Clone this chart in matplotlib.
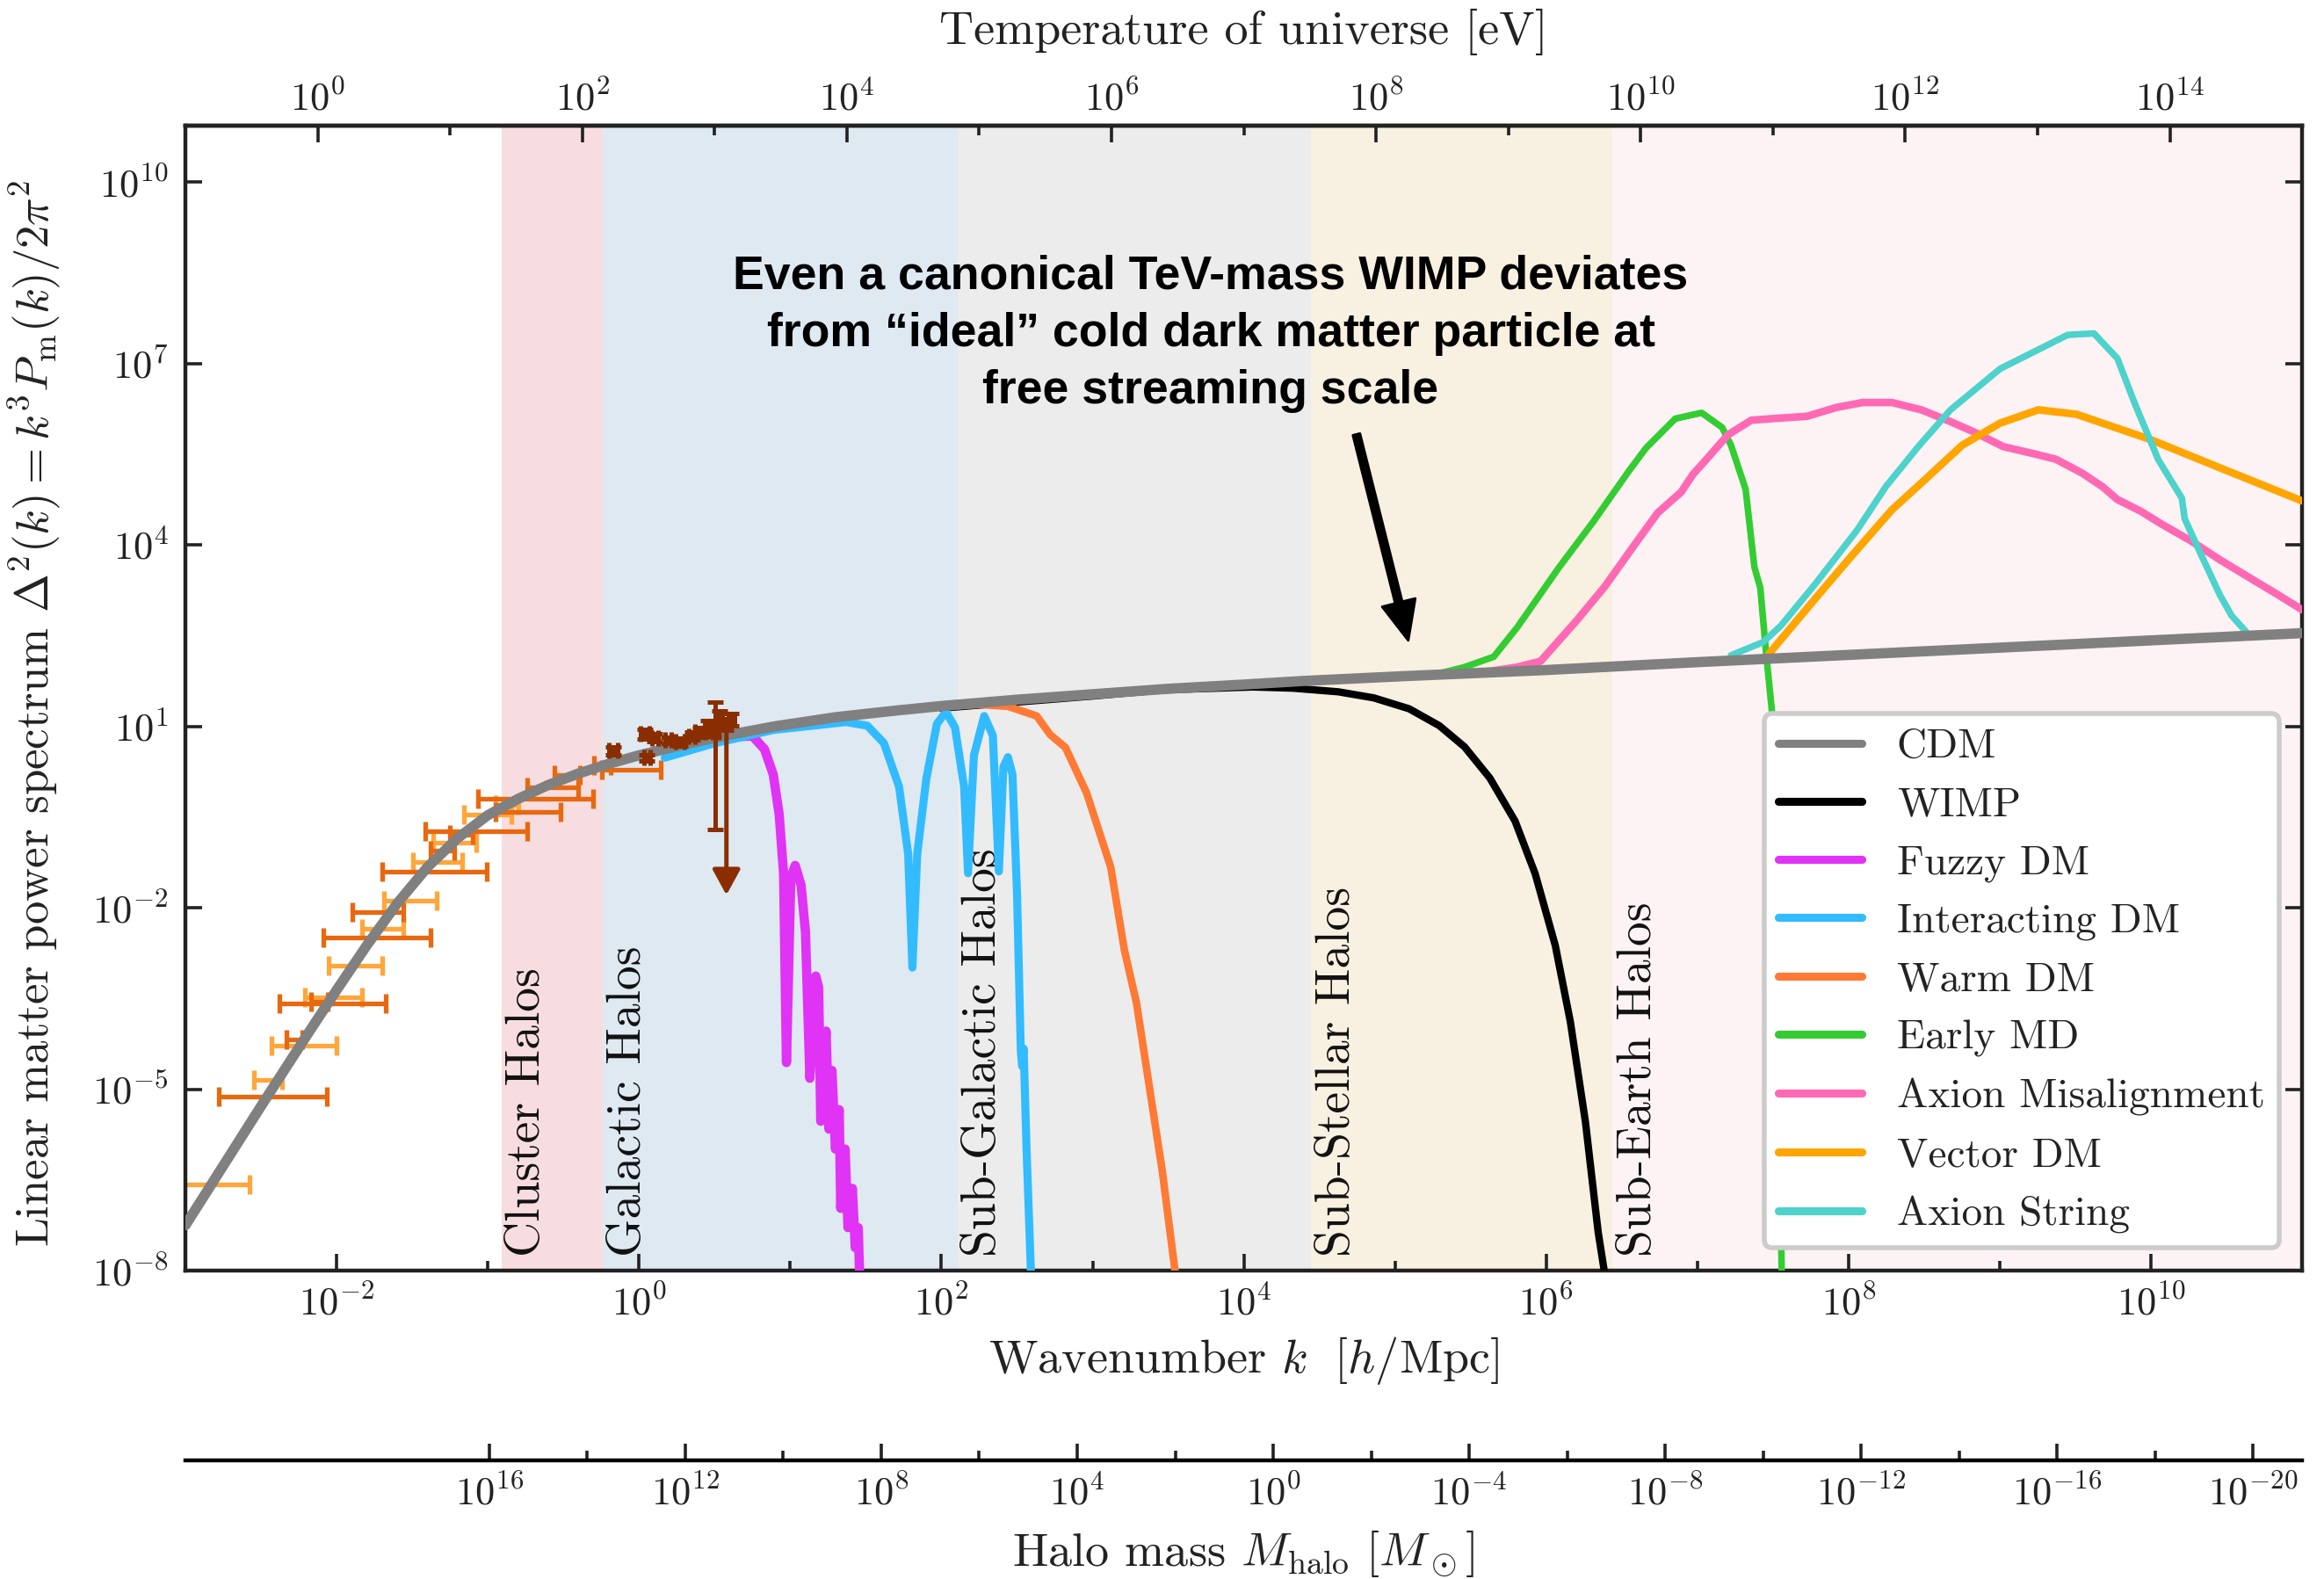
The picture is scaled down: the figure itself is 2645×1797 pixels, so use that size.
import numpy as np
import matplotlib
matplotlib.use("Agg")
import matplotlib.pyplot as plt
from matplotlib.lines import Line2D
from matplotlib.ticker import NullFormatter, NullLocator
import matplotlib.transforms as mtransforms

plt.rcParams.update({
    "font.family": "serif",
    "font.serif": ["cmr10"],
    "mathtext.fontset": "cm",
    "axes.formatter.use_mathtext": True,
    "text.color": "#222222",
    "axes.labelcolor": "#222222",
    "xtick.color": "#222222",
    "ytick.color": "#222222",
})

# ---------------- data (log10 values) ----------------
cdm_logk = [-3.0, -2.5, -2.2, -2.0, -1.8, -1.6, -1.4, -1.2, -1.0, -0.8, -0.6, -0.4, -0.2, 0.0,
            0.3, 0.6, 0.9, 1.3, 1.7, 2.0, 2.5, 3.0, 3.5, 4.0, 4.4, 5.07, 6.0, 7.0, 8.0, 9.0, 10.0, 11.0]
cdm_logy = [-7.25, -5.28, -4.12, -3.36, -2.62, -1.93, -1.33, -0.85, -0.47, -0.2, 0.03, 0.22, 0.38, 0.52,
            0.70, 0.86, 1.0, 1.15, 1.26, 1.335, 1.44, 1.53, 1.62, 1.69, 1.75, 1.83, 1.93, 2.06, 2.18,
            2.30, 2.42, 2.54]

wimp_logk = [2.0, 3.0, 3.458, 4.058, 4.325, 4.625, 4.859, 5.093, 5.293, 5.46, 5.627, 5.794, 5.927,
             6.06, 6.16, 6.26, 6.344, 6.39]
wimp_logy = [1.30, 1.50, 1.60, 1.65, 1.63, 1.57, 1.47, 1.29, 1.01, 0.66, 0.145, -0.566, -1.437,
             -2.622, -3.888, -5.549, -7.367, -8.1]

fuzzy_logk = [0.3, 0.6, 0.75, 0.83, 0.888, 0.927, 0.956, 0.975, 1.004, 1.033, 1.072, 1.101, 1.13,
              1.169, 1.188, 1.202, 1.237, 1.256, 1.276, 1.299, 1.324, 1.334, 1.363, 1.382, 1.411,
              1.43, 1.45, 1.459]
fuzzy_logy = [0.62, 0.82, 0.84, 0.62, 0.2, -0.46, -1.43, -4.56, -1.5, -1.3, -1.63, -2.41, -4.82,
              -3.13, -3.32, -5.53, -4.04, -5.66, -4.69, -5.99, -5.34, -6.97, -5.99, -7.29, -6.64,
              -7.62, -7.29, -8.1]

idm_logk = [0.17, 0.5, 0.89, 1.37, 1.51, 1.62, 1.72, 1.78, 1.808, 1.84, 1.9, 1.97, 2.03, 2.09, 2.15,
            2.176, 2.215, 2.283, 2.34, 2.38, 2.41, 2.44, 2.47, 2.5, 2.525, 2.534, 2.544, 2.563, 2.593]
idm_logy = [0.48, 0.72, 0.94, 1.07, 1.01, 0.72, 0.0, -1.11, -2.99, -1.11, 0.13, 1.04, 1.24, 0.98,
            0.0, -1.43, 0.52, 1.17, 0.85, -1.40, 0.33, 0.49, 0.2, -1.76, -4.36, -4.62, -4.33, -5.99, -8.1]

wdm_logk = [1.9, 2.1, 2.25, 2.44, 2.63, 2.72, 2.82, 2.96, 3.12, 3.21, 3.29, 3.46, 3.55]
wdm_logy = [1.31, 1.34, 1.36, 1.33, 1.17, 0.86, 0.65, -0.1, -1.33, -2.7, -3.57, -6.34, -8.1]

emd_logk = [5.0, 5.228, 5.459, 5.653, 5.808, 6.079, 6.312, 6.544, 6.66, 6.854, 7.028, 7.164, 7.222,
            7.319, 7.377, 7.416, 7.455, 7.493, 7.53, 7.56]
emd_logy = [1.82, 1.832, 1.978, 2.149, 2.634, 3.607, 4.384, 5.211, 5.6, 6.086, 6.183, 5.94, 5.648,
            4.919, 3.632, 3.29, 2.197, 1.249, -3.0, -8.5]

mis_logk = [5.6, 5.808, 5.963, 6.196, 6.389, 6.583, 6.738, 6.892, 6.97, 7.048, 7.202, 7.357, 7.551,
            7.725, 7.919, 8.093, 8.287, 8.481, 8.674, 8.829, 9.023, 9.216, 9.371, 9.545, 9.681,
            9.778, 9.933, 10.068, 10.262, 10.456, 10.649, 10.843, 11.0]
mis_logy = [1.90, 1.978, 2.076, 2.732, 3.315, 3.996, 4.53, 4.871, 5.163, 5.381, 5.819, 6.061, 6.096,
            6.125, 6.271, 6.353, 6.353, 6.232, 6.037, 5.867, 5.624, 5.512, 5.415, 5.186, 4.958,
            4.749, 4.555, 4.346, 4.069, 3.753, 3.461, 3.17, 2.926]

vec_logk = [7.473, 7.783, 8.015, 8.287, 8.5, 8.752, 9.003, 9.255, 9.507, 9.991, 10.494, 11.0]
vec_logy = [2.197, 3.121, 3.802, 4.58, 5.066, 5.648, 6.013, 6.232, 6.159, 5.746, 5.235, 4.725]

str_logk = [7.222, 7.435, 7.551, 7.783, 8.055, 8.248, 8.461, 8.674, 9.003, 9.449, 9.623, 9.778,
            9.894, 10.049, 10.204, 10.223, 10.32, 10.456, 10.533, 10.63]
str_logy = [2.173, 2.392, 2.659, 3.364, 4.239, 4.968, 5.624, 6.232, 6.912, 7.471, 7.495, 7.082,
            6.329, 5.405, 4.773, 4.433, 3.899, 3.17, 2.83, 2.561]

# measurements (log10 k centre / low / high, log10 Delta^2)
light_k = [-2.844, -2.47, -2.26, -2.04, -1.935, -1.727, -1.545, -1.364, -1.208, -1.026, -0.88]
light_klo = [-3.05, -2.545, -2.43, -2.21, -2.052, -1.831, -1.688, -1.494, -1.364, -1.156, -0.95]
light_khi = [-2.579, -2.364, -2.0, -1.83, -1.70, -1.558, -1.338, -1.169, -1.078, -0.844, -0.80]
light_y = [-6.57, -4.85, -4.28, -3.48, -2.96, -2.35, -1.89, -1.24, -0.917, -0.46, -0.30]

dark_k = [-2.49, -2.28, -2.12, -2.09, -1.805, -1.675, -1.39, -1.3, -1.18, -1.052, -0.766, -0.714,
          -0.532, -0.48, -0.247, -0.065]
dark_klo = [-2.78, -2.33, -2.17, -2.377, -2.09, -1.896, -1.70, -1.38, -1.25, -1.416, -1.065, -0.948,
            -0.74, -0.558, -0.30, -0.247]
dark_khi = [-2.065, -2.23, -2.06, -1.675, -1.377, -1.558, -1.005, -1.22, -1.10, -0.74, -0.304, -0.519,
            -0.403, -0.39, -0.19, 0.143]
dark_y = [-5.13, -4.18, -3.55, -3.58, -2.49, -2.07, -1.40, -1.05, -0.80, -0.74, -0.20, -0.41,
          -0.007, 0.19, 0.35, 0.285]

brown_k = [-0.169, 0.039, 0.052, 0.104, 0.195, 0.273, 0.351, 0.403, 0.455, 0.494, 0.532, 0.571, 0.61, 0.506]
brown_y = [0.597, 0.87, 0.48, 0.805, 0.77, 0.74, 0.84, 0.90, 1.0, 0.935, 1.10, 1.03, 1.11, 0.9]
brown_ylo = [0.53, 0.79, 0.43, 0.74, 0.72, 0.68, 0.78, 0.82, 0.90, 0.84, 0.95, 0.93, 1.01, -0.70]
brown_yhi = [0.66, 0.95, 0.53, 0.87, 0.82, 0.80, 0.90, 0.98, 1.10, 1.03, 1.25, 1.13, 1.21, 1.40]
brown_dk = [0.03, 0.03, 0.02, 0.02, 0.02, 0.03, 0.02, 0.03, 0.02, 0.03, 0.02, 0.02, 0.02, 0.02]

limit_k = 0.578
limit_y_top = 1.11
limit_y_bottom = -1.79

band_names = ["Cluster Halos", "Galactic Halos", "Sub-Galactic Halos", "Sub-Stellar Halos", "Sub-Earth Halos"]
band_lo = [-0.910, -0.242, 2.106, 4.444, 6.438]
band_hi = [-0.242, 2.106, 4.444, 6.438, 11.1]
band_colors = ["#f8dde0", "#dee9f2", "#ececec", "#f8f0e0", "#fdf3f4"]

series_names = ["CDM", "WIMP", "Fuzzy DM", "Interacting DM", "Warm DM", "Early MD",
                "Axion Misalignment", "Vector DM", "Axion String"]
series_colors = ["#808080", "#000000", "#e033f5", "#33bbff", "#ff7a35", "#33cc33",
                 "#ff69b4", "#ffa500", "#4dd2cc"]

k_ticks = [-2, 0, 2, 4, 6, 8, 10]
y_ticks = [-8, -5, -2, 1, 4, 7, 10]
T_ticks = [0, 2, 4, 6, 8, 10, 12, 14]
M_ticks = [16, 12, 8, 4, 0, -4, -8, -12, -16, -20]

# ---------------- figure ----------------
fig = plt.figure(figsize=(13.225, 8.985), dpi=200)
ax = fig.add_axes([0.0798, 0.1953, 0.9108, 0.7251])
ax.set_xscale("log")
ax.set_yscale("log")
ax.set_xlim(1e-3, 1e11)
ax.set_ylim(1e-8, 10 ** 10.93)

blend = mtransforms.blended_transform_factory(ax.transData, ax.transAxes)
for name, lo, hi, c in zip(band_names, band_lo, band_hi, band_colors):
    ax.axvspan(10 ** lo, 10 ** hi, color=c, lw=0, zorder=0)
    ax.text(10 ** (lo + 0.03), 0.012, name, transform=blend, rotation=90,
            ha="left", va="bottom", fontsize=20, color="#111111", zorder=1)

# measurements
def ebar(kc, klo, khi, yv, color, **kw):
    kc = np.array(kc); klo = np.array(klo); khi = np.array(khi); yv = np.array(yv)
    x = 10 ** kc
    xerr = [x - 10 ** klo, 10 ** khi - x]
    ax.errorbar(x, 10 ** yv, xerr=xerr, fmt="none", ecolor=color, elinewidth=1.9,
                capsize=3.8, capthick=1.9, **kw)

ebar(light_k, light_klo, light_khi, light_y, "#ffa63c", zorder=2)
ebar(dark_k, dark_klo, dark_khi, dark_y, "#e8680f", zorder=2)

bk = np.array(brown_k); by = np.array(brown_y)
bx = 10 ** bk
ax.errorbar(bx, 10 ** by,
            xerr=[bx - 10 ** (bk - np.array(brown_dk)), 10 ** (bk + np.array(brown_dk)) - bx],
            yerr=[10 ** by - 10 ** np.array(brown_ylo), 10 ** np.array(brown_yhi) - 10 ** by],
            fmt="o", ms=3.0, color="#8a2e02", ecolor="#8a2e02", elinewidth=1.8,
            capsize=3.2, capthick=1.8, zorder=5)
ax.annotate("", xy=(10 ** limit_k, 10 ** limit_y_bottom), xytext=(10 ** limit_k, 10 ** limit_y_top),
            arrowprops=dict(arrowstyle="-|>,head_length=0.55,head_width=0.3", color="#8a2e02",
                            lw=1.8, mutation_scale=16, shrinkA=0, shrinkB=0), zorder=5)

# model curves
curves = [
    (cdm_logk, cdm_logy, 4.2, 4),
    (wimp_logk, wimp_logy, 3.0, 3),
    (fuzzy_logk, fuzzy_logy, 3.8, 3),
    (idm_logk, idm_logy, 3.3, 3),
    (wdm_logk, wdm_logy, 3.1, 3),
    (emd_logk, emd_logy, 2.7, 3),
    (mis_logk, mis_logy, 3.1, 3),
    (vec_logk, vec_logy, 3.1, 3),
    (str_logk, str_logy, 2.7, 3),
]
for (lk, ly, lw, z), c in zip(curves, series_colors):
    ax.plot(10 ** np.array(lk), 10 ** np.array(ly), color=c, lw=lw, zorder=z,
            solid_capstyle="round", solid_joinstyle="round")

# ticks
ax.set_xticks(10.0 ** np.array(k_ticks))
ax.set_xticks(10.0 ** np.arange(-1, 11, 2), minor=True)
ax.xaxis.set_minor_formatter(NullFormatter())
ax.set_yticks(10.0 ** np.array(y_ticks))
ax.yaxis.set_minor_locator(NullLocator())
ax.tick_params(which="both", direction="in", right=True, top=False, width=1.3, labelsize=16)
ax.tick_params(which="major", length=7)
ax.tick_params(which="minor", length=4)
ax.tick_params(axis="y", pad=7)
ax.tick_params(axis="x", pad=6)
for s in ax.spines.values():
    s.set_linewidth(1.6)
    s.set_color("#222222")

ax.set_xlabel(r"Wavenumber $k\ \ [h/{\rm Mpc}]$", fontsize=19.5)
ax.xaxis.set_label_coords(0.5, -0.056)
ax.set_ylabel(r"Linear matter power spectrum $\Delta^2(k) = k^3 P_{\rm m}(k)/2\pi^2$", fontsize=19)
ax.yaxis.set_label_coords(-0.058, 0.487)

# temperature axis (top)
def k2T(k):
    k = np.clip(np.asarray(k, dtype=float), 1e-300, None)
    return 10 ** (-1 + (16.0 / 14.0) * (np.log10(k) + 3))

def T2k(T):
    T = np.clip(np.asarray(T, dtype=float), 1e-300, None)
    return 10 ** ((np.log10(T) + 1) * 14.0 / 16.0 - 3)

secT = ax.secondary_xaxis("top", functions=(k2T, T2k))
secT.set_xticks(10.0 ** np.array(T_ticks))
secT.set_xticks(10.0 ** np.arange(1, 15, 2), minor=True)
secT.xaxis.set_minor_formatter(NullFormatter())
secT.tick_params(which="both", direction="in", width=1.3, labelsize=16, pad=3)
secT.tick_params(which="major", length=7)
secT.tick_params(which="minor", length=4)
secT.spines["top"].set_linewidth(1.6)
secT.set_xlabel("Temperature of universe [eV]", fontsize=19.5, labelpad=15)

# halo mass axis (below)
def k2M(k):
    k = np.clip(np.asarray(k, dtype=float), 1e-300, None)
    return 10 ** (22.2 - 3.0857 * (np.log10(k) + 3))

def M2k(M):
    M = np.clip(np.asarray(M, dtype=float), 1e-300, None)
    return 10 ** ((22.2 - np.log10(M)) / 3.0857 - 3)

secM = ax.secondary_xaxis(-0.1658, functions=(k2M, M2k))
secM.set_xticks(10.0 ** np.array(M_ticks))
secM.set_xticks(10.0 ** np.arange(-18, 15, 4), minor=True)
secM.xaxis.set_minor_formatter(NullFormatter())
secM.tick_params(which="both", direction="in", width=1.3, labelsize=16, pad=6)
secM.tick_params(which="major", length=7)
secM.tick_params(which="minor", length=4)
secM.spines["bottom"].set_linewidth(1.6)
secM.set_xlabel(r"Halo mass $M_{\rm halo}\ [M_\odot]$", fontsize=19.5, labelpad=6)

# annotation
ax.text(0.4844, 0.8184,
        "Even a canonical TeV-mass WIMP deviates\nfrom \u201cideal\u201d cold dark matter particle at\nfree streaming scale",
        transform=ax.transAxes, ha="center", va="center", multialignment="center",
        fontsize=19.3, fontweight="bold", family="Liberation Sans", color="black",
        linespacing=1.39, zorder=6)
ax.annotate("", xy=(0.5777, 0.5504), xytext=(0.5532, 0.7304), xycoords="axes fraction",
            textcoords="axes fraction",
            arrowprops=dict(facecolor="black", edgecolor="black", width=3, headwidth=14,
                            headlength=16, shrink=0), zorder=6)

# legend
handles = [Line2D([0], [0], color=c, lw=3.3, solid_capstyle="round") for c in series_colors]
leg = ax.legend(handles, series_names, loc="lower right", fontsize=17, frameon=True,
                fancybox=True, framealpha=1, edgecolor="#cccccc", handlelength=2.0,
                handletextpad=0.85, labelspacing=0.51, borderpad=0.35, borderaxespad=0.55)
leg.get_frame().set_linewidth(2)
leg.set_zorder(10)

fig.savefig("out.png", dpi=200)
